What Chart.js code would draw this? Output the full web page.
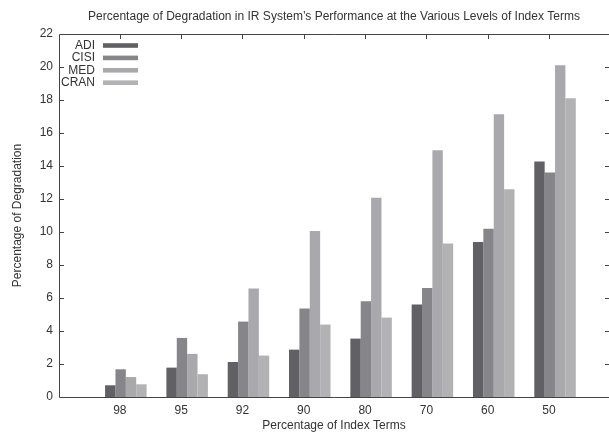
<!DOCTYPE html>
<html>
<head>
<meta charset="utf-8">
<title>Percentage of Degradation</title>
<style>
  html, body { margin: 0; padding: 0; background: #fff; }
</style>
</head>
<body>
<canvas id="chart-bar" width="609" height="432"></canvas>
<script src="https://cdn.jsdelivr.net/npm/chart.js@4.4.1/dist/chart.umd.min.js"></script>
<script>
// data
const categories = ['98', '95', '92', '90', '80', '70', '60', '50'];
const seriesNames = ['ADI', 'CISI', 'MED', 'CRAN'];
const adi  = [0.71, 1.78, 2.12, 2.87, 3.54, 5.60, 9.39, 14.28];
const cisi = [1.68, 3.58, 4.57, 5.36, 5.80, 6.61, 10.20, 13.60];
const med  = [1.21, 2.61, 6.57, 10.06, 12.08, 14.95, 17.13, 20.10];
const cran = [0.77, 1.38, 2.51, 4.39, 4.81, 9.30, 12.59, 18.10];
const yTicks = [0, 2, 4, 6, 8, 10, 12, 14, 16, 18, 20, 22];

const colors = ['#616165', '#86868a', '#a9a9ad', '#b2b2b5'];
const FONT = '"Liberation Sans", Arial, sans-serif';
const TEXT = '#333';
const labelShift = -6; // tick labels sit a little left of the bar groups

const series = [adi, cisi, med, cran];

// frame, inward ticks, titles and legend
const decor = {
  id: 'decor',
  afterDraw(chart) {
    const { ctx, chartArea: a, scales: { x, y } } = chart;
    ctx.save();
    ctx.strokeStyle = '#444';
    ctx.lineWidth = 1;
    ctx.beginPath();
    ctx.moveTo(a.right + 2, a.top + 0.5);
    ctx.lineTo(a.left + 0.5, a.top + 0.5);
    ctx.lineTo(a.left + 0.5, a.bottom + 0.5);
    ctx.lineTo(a.right + 2, a.bottom + 0.5);
    yTicks.forEach(v => {
      if (v === yTicks[0] || v === yTicks[yTicks.length - 1]) return;
      const p = Math.round(y.getPixelForValue(v)) + 0.5;
      ctx.moveTo(a.left, p); ctx.lineTo(a.left + 5, p);
      ctx.moveTo(a.right - 4, p); ctx.lineTo(a.right, p);
    });
    categories.forEach((c, i) => {
      const p = Math.round(x.getPixelForValue(i + 1) + labelShift) + 0.5;
      ctx.moveTo(p, a.top); ctx.lineTo(p, a.top + 5);
    });
    ctx.stroke();

    ctx.fillStyle = TEXT;
    ctx.font = '12px ' + FONT;
    ctx.textAlign = 'center';
    ctx.textBaseline = 'middle';
    const cx = (a.left + a.right) / 2;
    ctx.fillText('Percentage of Degradation in IR System\u2019s Performance at the Various Levels of Index Terms', cx, 17);
    ctx.fillText('Percentage of Index Terms', cx, 426);
    ctx.save();
    ctx.translate(18, (a.top + a.bottom) / 2);
    ctx.rotate(-Math.PI / 2);
    ctx.fillText('Percentage of Degradation', 0, 0);
    ctx.restore();

    // legend: label right-aligned, swatch to its right
    ctx.textAlign = 'right';
    chart.data.datasets.forEach((ds, i) => {
      const yy = a.top + 11.5 + i * 12.4;
      ctx.fillStyle = TEXT;
      ctx.fillText(ds.label, a.left + 36, yy);
      ctx.fillStyle = ds.backgroundColor;
      ctx.fillRect(a.left + 44, yy - 2.3, 35, 4.6);
    });
    ctx.restore();
  }
};

new Chart(document.getElementById('chart-bar'), {
  type: 'bar',
  data: {
    datasets: series.map((s, k) => ({
      label: seriesNames[k],
      data: categories.map((c, i) => ({ x: i + 1, y: s[i] })),
      backgroundColor: colors[k],
      borderWidth: 0,
      categoryPercentage: 0.677,
      barPercentage: 1.0
    }))
  },
  options: {
    responsive: false,
    animation: false,
    devicePixelRatio: 1,
    layout: { padding: { top: 34, right: 0, left: 0, bottom: 0 } },
    plugins: { legend: { display: false }, title: { display: false }, tooltip: { enabled: false } },
    scales: {
      x: {
        type: 'linear',
        offset: false,
        min: -0.09,
        max: 8.88,
        afterBuildTicks: s => { s.ticks = categories.map((c, i) => ({ value: i + 1 })); },
        afterFit: s => { s.height = 35; },
        grid: { display: false, drawTicks: false, offset: false },
        border: { display: false },
        ticks: {
          callback: v => categories[v - 1],
          labelOffset: labelShift,
          padding: 6,
          autoSkip: false,
          maxRotation: 0,
          color: TEXT,
          font: { family: FONT, size: 12 }
        }
      },
      y: {
        min: 0,
        max: 22,
        afterBuildTicks: s => { s.ticks = yTicks.map(v => ({ value: v })); },
        afterFit: s => { s.width = 59; },
        grid: { display: false, drawTicks: false },
        border: { display: false },
        ticks: {
          padding: 6,
          color: TEXT,
          font: { family: FONT, size: 12 }
        }
      }
    }
  },
  plugins: [decor]
});
</script>
</body>
</html>
